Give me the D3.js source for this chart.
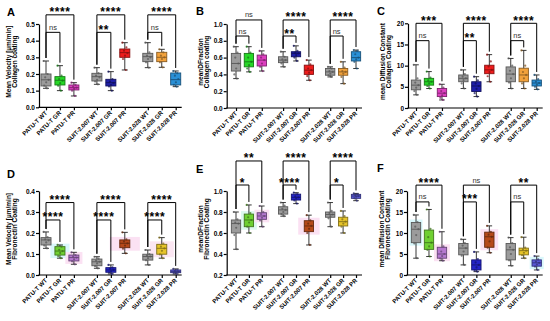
<!DOCTYPE html>
<html>
<head>
<meta charset="utf-8">
<script src="https://cdn.jsdelivr.net/npm/d3@7"></script>
<style>
  body { margin: 0; background: #fff; }
  svg { font-family: "Liberation Sans", Arial, sans-serif; }
</style>
</head>
<body>
<svg id="chart" width="550" height="321"></svg>
<script>
// Cell lines / conditions on the x axis
const categories = ["PATU-T WT", "PATU-T GR", "PATU-T PR",
                    "SUIT-2.007 WT", "SUIT-2.007 GR", "SUIT-2.007 PR",
                    "SUIT-2.028 WT", "SUIT-2.028 GR", "SUIT-2.028 PR"];

// Box stats per condition: [min, q1, median, q3, max]
const velCollagen = [
    [0.114, 0.128, 0.165, 0.200, 0.278], [0.100, 0.134, 0.162, 0.184, 0.250], [0.068, 0.104, 0.118, 0.134, 0.148],
    [0.138, 0.158, 0.184, 0.204, 0.238], [0.100, 0.128, 0.148, 0.168, 0.214], [0.224, 0.300, 0.328, 0.350, 0.388],
    [0.238, 0.274, 0.304, 0.324, 0.388], [0.240, 0.274, 0.300, 0.330, 0.348], [0.124, 0.134, 0.166, 0.206, 0.218]];
const fracCollagen = [
    [0.35, 0.44, 0.53, 0.65, 0.73], [0.43, 0.49, 0.55, 0.65, 0.73], [0.44, 0.50, 0.57, 0.63, 0.68],
    [0.49, 0.54, 0.57, 0.61, 0.67], [0.56, 0.61, 0.65, 0.67, 0.74], [0.33, 0.40, 0.45, 0.51, 0.57],
    [0.37, 0.39, 0.43, 0.47, 0.49], [0.29, 0.39, 0.43, 0.47, 0.55], [0.47, 0.56, 0.60, 0.67, 0.69]];
const diffCollagen = [
    [3.1, 4.3, 5.4, 6.6, 10.2], [4.6, 5.4, 6.2, 7.0, 8.6], [1.9, 2.7, 3.5, 4.6, 5.6],
    [4.6, 6.2, 7.0, 7.8, 9.0], [2.7, 3.9, 5.2, 6.2, 7.4], [6.2, 8.1, 9.0, 10.1, 12.6],
    [4.6, 6.2, 8.0, 9.7, 11.7], [4.6, 6.2, 7.8, 9.4, 13.6], [4.4, 5.2, 5.9, 6.6, 7.8]];
const velFibro = [
    [0.127, 0.143, 0.167, 0.178, 0.205], [0.080, 0.095, 0.114, 0.135, 0.143], [0.051, 0.067, 0.083, 0.095, 0.108],
    [0.032, 0.044, 0.063, 0.076, 0.087], [0.005, 0.013, 0.024, 0.035, 0.048], [0.103, 0.130, 0.151, 0.167, 0.203],
    [0.048, 0.071, 0.088, 0.099, 0.119], [0.080, 0.099, 0.127, 0.146, 0.178], [0.005, 0.011, 0.016, 0.024, 0.029]];
const fracFibro = [
    [0.445, 0.600, 0.690, 0.724, 0.800], [0.600, 0.660, 0.724, 0.780, 0.867], [0.660, 0.730, 0.762, 0.793, 0.857],
    [0.760, 0.780, 0.820, 0.850, 0.890], [0.880, 0.914, 0.940, 0.970, 0.984], [0.486, 0.613, 0.667, 0.717, 0.770],
    [0.660, 0.750, 0.776, 0.800, 0.890], [0.600, 0.667, 0.708, 0.750, 0.810], [0.908, 0.930, 0.952, 0.968, 0.977]];
const diffFibro = [
    [4.0, 7.7, 10.9, 12.5, 14.3], [4.4, 6.1, 7.7, 10.7, 15.6], [3.4, 4.0, 5.0, 6.6, 10.3],
    [2.4, 4.8, 6.4, 7.5, 8.5], [0.8, 1.2, 2.4, 3.6, 5.5], [5.3, 6.6, 9.1, 10.2, 11.7],
    [2.2, 3.6, 6.0, 7.5, 8.9], [4.0, 4.8, 5.8, 6.4, 9.0], [1.2, 2.1, 2.9, 3.6, 4.5]];

// Individual cell values (estimated) plotted over the boxes
const velCollagenPts = [
    [0.278, 0.20, 0.18, 0.165, 0.15, 0.13, 0.114], [0.25, 0.19, 0.17, 0.16, 0.145, 0.13, 0.10], [0.148, 0.135, 0.125, 0.118, 0.11, 0.10, 0.068],
    [0.238, 0.205, 0.19, 0.18, 0.165, 0.155, 0.138], [0.214, 0.17, 0.155, 0.145, 0.135, 0.125, 0.10], [0.388, 0.36, 0.34, 0.325, 0.31, 0.29, 0.224],
    [0.388, 0.33, 0.31, 0.30, 0.29, 0.27, 0.238], [0.348, 0.33, 0.31, 0.30, 0.29, 0.27, 0.24], [0.218, 0.205, 0.19, 0.17, 0.15, 0.135, 0.124]];
const fracCollagenPts = [
    [0.73, 0.66, 0.60, 0.53, 0.47, 0.40, 0.35], [0.73, 0.66, 0.60, 0.55, 0.51, 0.47, 0.43], [0.68, 0.64, 0.60, 0.57, 0.53, 0.49, 0.44],
    [0.67, 0.61, 0.58, 0.57, 0.55, 0.53, 0.49], [0.74, 0.68, 0.66, 0.65, 0.63, 0.60, 0.56], [0.57, 0.52, 0.47, 0.45, 0.42, 0.38, 0.33],
    [0.49, 0.47, 0.44, 0.43, 0.41, 0.39, 0.37], [0.55, 0.48, 0.44, 0.43, 0.41, 0.37, 0.29], [0.69, 0.68, 0.64, 0.60, 0.58, 0.55, 0.47]];
const diffCollagenPts = [
    [10.2, 7.0, 6.0, 5.4, 4.8, 4.0, 3.1], [8.6, 7.2, 6.5, 6.2, 5.8, 5.2, 4.6], [5.6, 4.8, 4.0, 3.5, 3.0, 2.4, 1.9],
    [9.0, 8.0, 7.4, 7.0, 6.6, 5.8, 4.6], [7.4, 6.5, 5.8, 5.2, 4.5, 3.5, 2.7], [12.6, 11.0, 9.8, 9.0, 8.5, 7.5, 6.2],
    [11.7, 10.0, 8.8, 8.0, 7.0, 6.0, 4.6], [13.6, 10.0, 8.5, 7.8, 7.0, 5.8, 4.6], [7.8, 6.8, 6.2, 5.9, 5.5, 5.0, 4.4]];
const velFibroPts = [
    [0.205, 0.18, 0.17, 0.165, 0.155, 0.14, 0.127], [0.143, 0.135, 0.12, 0.114, 0.105, 0.09, 0.080], [0.108, 0.095, 0.088, 0.083, 0.075, 0.065, 0.051],
    [0.087, 0.078, 0.068, 0.063, 0.055, 0.042, 0.032], [0.048, 0.036, 0.03, 0.024, 0.018, 0.012, 0.005], [0.203, 0.17, 0.16, 0.151, 0.14, 0.125, 0.103],
    [0.119, 0.10, 0.093, 0.088, 0.08, 0.07, 0.048], [0.178, 0.15, 0.135, 0.127, 0.115, 0.098, 0.080], [0.029, 0.025, 0.02, 0.016, 0.013, 0.01, 0.005]];
const fracFibroPts = [
    [0.80, 0.73, 0.70, 0.69, 0.65, 0.58, 0.445], [0.867, 0.79, 0.75, 0.724, 0.70, 0.66, 0.60], [0.857, 0.80, 0.78, 0.762, 0.745, 0.72, 0.66],
    [0.89, 0.86, 0.83, 0.82, 0.80, 0.78, 0.76], [0.984, 0.97, 0.95, 0.94, 0.93, 0.91, 0.88], [0.77, 0.72, 0.69, 0.667, 0.64, 0.60, 0.486],
    [0.89, 0.81, 0.79, 0.776, 0.76, 0.74, 0.66], [0.81, 0.76, 0.73, 0.708, 0.69, 0.66, 0.60], [0.977, 0.97, 0.96, 0.952, 0.945, 0.93, 0.908]];
const diffFibroPts = [
    [14.3, 12.6, 11.5, 10.9, 9.5, 7.5, 4.0], [15.6, 11.0, 9.0, 7.7, 6.8, 6.0, 4.4], [10.3, 6.8, 5.6, 5.0, 4.5, 3.9, 3.4],
    [8.5, 7.6, 7.0, 6.4, 5.6, 4.6, 2.4], [5.5, 3.8, 3.0, 2.4, 1.8, 1.1, 0.8], [11.7, 10.3, 9.6, 9.1, 8.0, 6.5, 5.3],
    [8.9, 7.6, 6.6, 6.0, 5.0, 3.5, 2.2], [9.0, 6.5, 6.1, 5.8, 5.3, 4.7, 4.0], [4.5, 3.7, 3.2, 2.9, 2.5, 2.0, 1.2]];

// Significance comparisons: [from, to, label, level] (level 0 = lower bracket)
const sigVelCollagen  = [[0,1,"ns",0],[0,2,"****",1],[3,4,"**",0],[3,5,"****",1],[6,7,"ns",0],[6,8,"****",1]];
const sigFracCollagen = [[0,1,"ns",0],[0,2,"ns",1],[3,4,"**",0],[3,5,"****",1],[6,7,"ns",0],[6,8,"****",1]];
const sigDiffCollagen = [[0,1,"ns",0],[0,2,"***",1],[3,4,"**",0],[3,5,"****",1],[6,7,"ns",0],[6,8,"****",1]];
const sigVelFibro     = [[0,1,"****",0],[0,2,"****",1],[3,4,"****",0],[3,5,"****",1],[6,7,"****",0],[6,8,"****",1]];
const sigFracFibro    = [[0,1,"*",0],[0,2,"**",1],[3,4,"****",0],[3,5,"****",1],[6,7,"*",0],[6,8,"****",1]];
const sigDiffFibro    = [[0,1,"ns",0],[0,2,"****",1],[3,4,"***",0],[3,5,"ns",1],[6,7,"ns",0],[6,8,"**",1]];

const colorsCollagen = ["#9b9b9b", "#27d827", "#dd3fc0", "#9b9b9b", "#1f1fa8", "#ee1c1c", "#9b9b9b", "#f2a23c", "#2a90d6"];
const colorsFibro    = ["#9b9b9b", "#6fd032", "#b678d0", "#9b9b9b", "#2424c8", "#b5491a", "#9b9b9b", "#e6c42a", "#5a5ad8"];

// faint glow behind some fibronectin boxes: [box index, colour, width factor]
const glowVelFibro  = [[1, "#d9f7fb", 1.9], [2, "#fbe1f3", 1.7], [5, "#fbe1f3", 3.0], [7, "#fbe6f2", 2.4]];
const glowFracFibro = [[1, "#ddf8ee", 1.7], [2, "#fbe1f3", 1.6], [5, "#fbe1f3", 2.3]];
const glowDiffFibro = [[0, "#d9f7fb", 1.4], [2, "#fbe1f3", 1.7], [5, "#fbe1f3", 1.9], [8, "#d9f7fb", 1.5]];

// Panel layout (pixel geometry)
const panels = [
    { letter: "A", lx: 7, ly: 16, axisX: 39, x0: 46, x1: 175.7, yTop: 24, yBot: 107.3, domain: [0, 0.5], ticks: [0, 0.1, 0.2, 0.3, 0.4, 0.5], fmt: ".1f",
      title: ["Mean Velocity [µm/min]", "Collagen coating"], tx: 8.5, stats: velCollagen, pts: velCollagenPts, sig: sigVelCollagen, colors: colorsCollagen, brk: [0.45, 0.555], glow: [] },
    { letter: "B", lx: 196, ly: 15, axisX: 226.7, x0: 236, x1: 356, yTop: 24, yBot: 108, domain: [0, 1], ticks: [0, 0.2, 0.4, 0.6, 0.8, 1.0], fmt: ".1f",
      title: ["meanDFraction", "Collagen coating"], tx: 200.5, stats: fracCollagen, pts: fracCollagenPts, sig: sigFracCollagen, colors: colorsCollagen, brk: [0.857, 1.048], glow: [] },
    { letter: "C", lx: 377, ly: 15, axisX: 408, x0: 416, x1: 536.7, yTop: 23.3, yBot: 108, domain: [0, 20], ticks: [0, 5, 10, 15, 20], fmt: "d",
      title: ["mean Diffusion Constant", "Collagen Coating"], tx: 383, stats: diffCollagen, pts: diffCollagenPts, sig: sigDiffCollagen, colors: colorsCollagen, brk: [15.9, 20.0], glow: [] },
    { letter: "D", lx: 7, ly: 178, axisX: 39, x0: 46, x1: 175.7, yTop: 191, yBot: 275, domain: [0, 0.4], ticks: [0, 0.1, 0.2, 0.3, 0.4], fmt: ".1f",
      title: ["Mean Velocity [µm/min]", "Fibronectin Coating"], tx: 8.5, stats: velFibro, pts: velFibroPts, sig: sigVelFibro, colors: colorsFibro, brk: [0.262, 0.345], glow: glowVelFibro },
    { letter: "E", lx: 196, ly: 173, axisX: 226.7, x0: 236, x1: 356, yTop: 191, yBot: 275, domain: [0.2, 1.0], ticks: [0.2, 0.4, 0.6, 0.8, 1.0], fmt: ".1f",
      title: ["meanDFraction", "Fibronectin Coating"], tx: 200.5, stats: fracFibro, pts: fracFibroPts, sig: sigFracFibro, colors: colorsFibro, brk: [1.057, 1.286], glow: glowFracFibro },
    { letter: "F", lx: 377, ly: 172, axisX: 407, x0: 416, x1: 536.7, yTop: 191, yBot: 275, domain: [0, 20], ticks: [0, 5, 10, 15, 20], fmt: "d",
      title: ["mean Diffusion Constant", "Fibronectin Coating"], tx: 382, stats: diffFibro, pts: diffFibroPts, sig: sigDiffFibro, colors: colorsFibro, brk: [17.4, 21.4], glow: glowDiffFibro }
];

const svg = d3.select("#chart");
const groupGap = 3.65;       // spacing between cell-line groups, in box steps
const jitter = [-2.4, 1.6, -0.8, 2.6, 0.2, -1.8, 1.0];

panels.forEach(p => {
    const g = svg.append("g");

    // positions: 3 groups of 3 boxes
    const pos = categories.map((c, i) => (i % 3) + Math.floor(i / 3) * groupGap);
    const x = d3.scaleLinear().domain([0, 2 + 2 * groupGap]).range([p.x0, p.x1]);
    const y = d3.scaleLinear().domain(p.domain).range([p.yBot, p.yTop]);
    const step = x(1) - x(0);
    const boxW = step * 0.72;

    // faint glow patches (drawn first, under everything)
    p.glow.forEach(([i, col, wf]) => {
        const s = p.stats[i];
        g.append("rect")
            .attr("x", x(pos[i]) - boxW * wf / 2).attr("width", boxW * wf)
            .attr("y", y(s[3]) - 3).attr("height", y(s[1]) - y(s[3]) + 6)
            .attr("fill", col);
    });

    // panel letter
    g.append("text")
        .attr("x", p.lx).attr("y", p.ly)
        .attr("font-size", 11).attr("font-weight", "bold").attr("fill", "#000")
        .text(p.letter);

    // y axis
    const yAxis = g.append("g")
        .attr("transform", `translate(${p.axisX},0)`)
        .call(d3.axisLeft(y).tickValues(p.ticks).tickSize(3).tickSizeOuter(0).tickFormat(d3.format(p.fmt)));
    yAxis.select(".domain").attr("stroke-width", 1.2);
    yAxis.selectAll(".tick line").attr("stroke-width", 1.2);
    yAxis.selectAll("text").attr("font-size", 6.5).attr("font-weight", "bold")
        .attr("font-family", "Liberation Sans, Arial, sans-serif").attr("x", -4);

    // x axis
    const xAxis = g.append("g")
        .attr("transform", `translate(0,${p.yBot})`)
        .call(d3.axisBottom(x).tickValues(pos).tickSize(3).tickFormat((d, i) => categories[i]));
    xAxis.select(".domain").remove();
    xAxis.selectAll(".tick line").attr("stroke-width", 1.2);
    xAxis.append("line")
        .attr("x1", p.axisX - 0.6).attr("x2", p.x1 + 6)
        .attr("stroke", "black").attr("stroke-width", 1.2);
    xAxis.selectAll("text")
        .attr("font-size", 6).attr("font-weight", "bold")
        .attr("font-family", "Liberation Sans, Arial, sans-serif")
        .attr("text-anchor", "end")
        .attr("dy", null).attr("y", 0)
        .attr("transform", "translate(1,6) rotate(-45)");

    // y title (two lines)
    const ymid = (p.yTop + p.yBot) / 2 - 4;
    p.title.forEach((t, k) => {
        g.append("text")
            .attr("transform", `translate(${p.tx + k * 6},${ymid}) rotate(-90)`)
            .attr("text-anchor", "middle").attr("dy", "0.35em")
            .attr("font-size", 6.5).attr("font-weight", "bold").attr("fill", "#000")
            .text(t);
    });

    // boxes
    p.stats.forEach((s, i) => {
        const cx = x(pos[i]);
        const col = p.colors[i];
        const dark = d3.color(col).darker(1.6).formatHex();
        const [mn, q1, md, q3, mx] = s;

        g.append("line").attr("x1", cx).attr("x2", cx).attr("y1", y(mx)).attr("y2", y(mn))
            .attr("stroke", "#222").attr("stroke-width", 0.9);
        [mn, mx].forEach(v => {
            g.append("line").attr("x1", cx - boxW * 0.3).attr("x2", cx + boxW * 0.3)
                .attr("y1", y(v)).attr("y2", y(v))
                .attr("stroke", "#222").attr("stroke-width", 0.9);
        });
        g.append("rect")
            .attr("x", cx - boxW / 2).attr("width", boxW)
            .attr("y", y(q3)).attr("height", y(q1) - y(q3))
            .attr("fill", col).attr("stroke", dark).attr("stroke-width", 0.9);
        g.append("line").attr("x1", cx - boxW / 2).attr("x2", cx + boxW / 2)
            .attr("y1", y(md)).attr("y2", y(md))
            .attr("stroke", dark).attr("stroke-width", 0.9);

        g.selectAll(null)
            .data(p.pts[i])
            .enter().append("circle")
            .attr("cx", (d, k) => cx + jitter[k % jitter.length] * boxW / 10)
            .attr("cy", d => y(d))
            .attr("r", 1.1)
            .attr("fill", dark).attr("opacity", 0.75);
    });

    // significance brackets
    p.sig.forEach(([a, b, label, level]) => {
        const by = y(p.brk[level]);
        const xa = x(pos[a]), xb = x(pos[b]);
        const ya = Math.max(by, y(p.stats[a][4]) - 3);
        const yb = Math.max(by, y(p.stats[b][4]) - 3);
        g.append("path")
            .attr("d", `M${xa},${ya}V${by}H${xb}V${yb}`)
            .attr("fill", "none").attr("stroke", "black").attr("stroke-width", 1);
        const isNs = label === "ns";
        g.append("text")
            .attr("x", (xa + xb) / 2)
            .attr("y", isNs ? by - 2.5 : by + 1.5)
            .attr("text-anchor", "middle")
            .attr("fill", isNs ? "#333" : "#000")
            .attr("font-size", isNs ? 7.5 : 12)
            .attr("font-weight", isNs ? "normal" : "bold")
            .attr("letter-spacing", isNs ? 0 : 0.6)
            .text(label);
    });
});
</script>
</body>
</html>
